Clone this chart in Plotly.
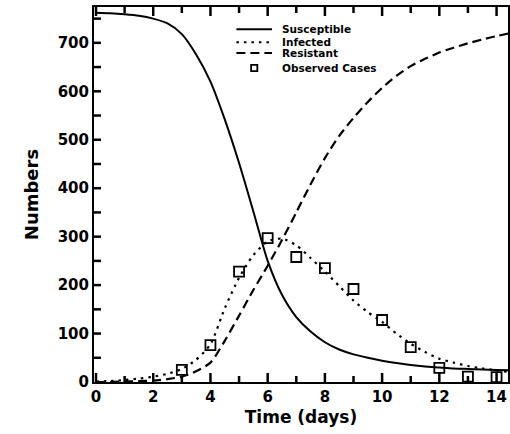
import plotly.graph_objects as go

# Model curves
t_curve = [0, 0.5, 1, 1.5, 2, 2.5, 3, 3.5, 4, 4.5, 5, 5.5, 6, 6.5, 7, 7.5, 8, 8.5, 9, 9.5,
           10, 10.5, 11, 11.5, 12, 12.5, 13, 13.5, 14, 14.4]
susceptible = [762, 761, 759, 756, 750, 740, 718, 676, 620, 542, 452, 352, 250, 180, 134, 104,
               82, 67, 57, 50, 44, 39, 35, 32, 30, 28, 27, 26, 25, 24]
infected = [1, 2, 4, 7, 11, 17, 27, 46, 78, 152, 215, 262, 290, 296, 282, 256, 228, 198, 168, 144,
            124, 100, 79, 62, 48, 40, 33, 28, 24, 21]
resistant = [0, 0, 1, 2, 3, 6, 11, 22, 40, 85, 137, 190, 240, 293, 350, 408, 462, 508, 545, 578,
             607, 632, 652, 667, 680, 690, 699, 707, 714, 719]

# Observed cases
obs_days = [3, 4, 5, 6, 7, 8, 9, 10, 11, 12, 13, 14]
obs_cases = [25, 76, 228, 297, 258, 235, 192, 128, 72, 29, 11, 10]

series_names = ["Susceptible", "Infected", "Resistant", "Observed Cases"]

# Tick positions
x_major = [0, 2, 4, 6, 8, 10, 12, 14]
x_minor = [1, 3, 5, 7, 9, 11, 13]
y_major = [100, 200, 300, 400, 500, 600, 700]
y_minor = [50, 150, 250, 350, 450, 550, 650, 750]

FONT = "DejaVu Sans"
X_RANGE = [-0.07, 14.4]
Y_RANGE = [0, 774]
MARGIN = dict(l=94, r=0, t=7, b=52)
W, H = 510, 434

# data units per screen pixel (for inward tick lengths)
ux = (X_RANGE[1] - X_RANGE[0]) / (W - MARGIN["l"] - MARGIN["r"])
uy = (Y_RANGE[1] - Y_RANGE[0]) / (H - MARGIN["t"] - MARGIN["b"])

fig = go.Figure()
fig.add_trace(go.Scatter(x=t_curve, y=susceptible, mode="lines", name=series_names[0],
                         line=dict(color="black", width=2, shape="spline", smoothing=0.7)))
fig.add_trace(go.Scatter(x=t_curve, y=infected, mode="lines", name=series_names[1],
                         line=dict(color="black", width=2.2, dash="2.5px,5px", shape="spline", smoothing=0.7)))
fig.add_trace(go.Scatter(x=t_curve, y=resistant, mode="lines", name=series_names[2],
                         line=dict(color="black", width=2.2, dash="9px,5px", shape="spline", smoothing=0.7)))
fig.add_trace(go.Scatter(x=obs_days, y=obs_cases, mode="markers", name=series_names[3],
                         marker=dict(symbol="square-open", size=10, color="black", line=dict(width=1.8))))

# inward tick marks (bottom, top, left), built from the tick position lists
tx, ty = [], []
for xv, ln in [(v, 9) for v in x_major] + [(v, 6) for v in x_minor]:
    tx += [xv, xv, None, xv, xv, None]
    ty += [Y_RANGE[0], Y_RANGE[0] + ln * uy, None, Y_RANGE[1], Y_RANGE[1] - ln * uy, None]
for yv, ln in [(v, 7) for v in y_major] + [(v, 7) for v in y_minor]:
    tx += [X_RANGE[0], X_RANGE[0] + ln * ux, None]
    ty += [yv, yv, None]
fig.add_trace(go.Scatter(x=tx, y=ty, mode="lines", line=dict(color="black", width=2.5),
                         hoverinfo="skip", showlegend=False, connectgaps=False))

tickfont = dict(family=FONT, size=15, color="black", weight="bold")

fig.update_layout(
    xaxis=dict(range=X_RANGE, tickmode="array", tickvals=x_major,
               showline=True, linecolor="black", linewidth=2, mirror=True,
               ticks="", showgrid=False, zeroline=False, tickfont=tickfont,
               title=dict(text="Time (days)", font=dict(family=FONT, size=17, color="black", weight="bold"),
                          standoff=6)),
    yaxis=dict(range=Y_RANGE, tickmode="array", tickvals=[0] + y_major,
               showline=True, linecolor="black", linewidth=2, mirror=True,
               ticks="", showgrid=False, zeroline=False, tickfont=tickfont,
               title=dict(text="Numbers", font=dict(family=FONT, size=18, color="black", weight="bold"),
                          standoff=14)),
)

# Legend drawn in the top-right of the plotting area (compact, like the original)
shapes = []
leg_x0, leg_x1, leg_tx = 0.344, 0.430, 0.4495
leg_rows = [0.9408, 0.9059, 0.8773, 0.8373]
leg_dash = ["solid", "2.5px,5px", "9px,5px"]
for row, dash in zip(leg_rows[:3], leg_dash):
    shapes.append(dict(type="line", xref="paper", yref="paper", x0=leg_x0, x1=leg_x1, y0=row, y1=row,
                       line=dict(color="black", width=2, dash=dash)))
shapes.append(dict(type="rect", xref="paper", yref="paper",
                   x0=0.387 - 0.0075, x1=0.387 + 0.0075, y0=leg_rows[3] - 0.0085, y1=leg_rows[3] + 0.0085,
                   line=dict(color="black", width=1.8)))
annotations = []
for row, name in zip(leg_rows, series_names):
    annotations.append(dict(x=leg_tx, y=row, xref="paper", yref="paper", text=name, showarrow=False,
                            xanchor="left", yanchor="middle",
                            font=dict(family=FONT, size=10.5, color="black", weight="bold")))

fig.update_layout(
    width=W, height=H,
    margin=MARGIN,
    paper_bgcolor="white", plot_bgcolor="white",
    showlegend=False,
    shapes=shapes, annotations=annotations,
)

fig.write_html("out.html")
